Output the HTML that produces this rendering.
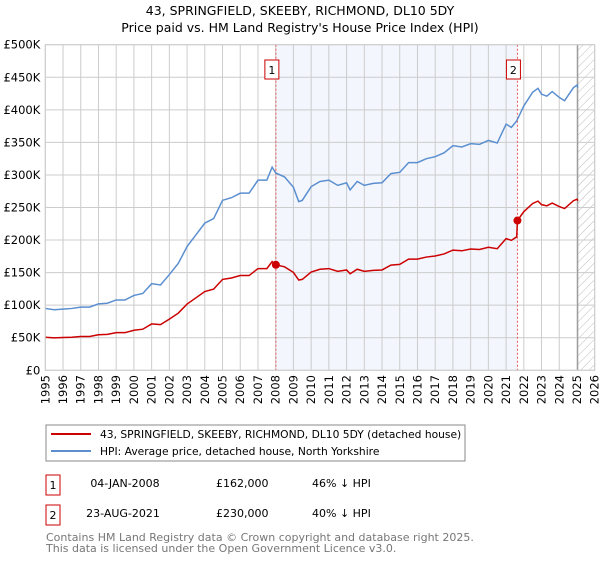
<!DOCTYPE html>
<html><head><meta charset="utf-8"><style>
body{margin:0;background:#fff;font-family:"Liberation Sans","DejaVu Sans",sans-serif;}
svg text{font-family:"DejaVu Sans","Liberation Sans",sans-serif;}
</style></head><body>
<svg id="chart" width="600" height="560" viewBox="0 0 600 560" xmlns="http://www.w3.org/2000/svg">
<defs><pattern id="hatch" patternUnits="userSpaceOnUse" width="6" height="6" patternTransform="rotate(45)"><line x1="0" y1="0" x2="0" y2="6" stroke="#bbb" stroke-width="1"/></pattern></defs>
<text x="300" y="15" text-anchor="middle" font-size="12.5">43, SPRINGFIELD, SKEEBY, RICHMOND, DL10 5DY</text>
<text x="300" y="32" text-anchor="middle" font-size="12.5">Price paid vs. HM Land Registry's House Price Index (HPI)</text>
<g id="plot"></g>
<rect x="46" y="425" width="419" height="36" fill="#fff" stroke="#888"/>
<line x1="51" y1="434" x2="91" y2="434" stroke="#cc0000" stroke-width="2"/>
<text x="100" y="438" font-size="10.7">43, SPRINGFIELD, SKEEBY, RICHMOND, DL10 5DY (detached house)</text>
<line x1="51" y1="451" x2="91" y2="451" stroke="#5b8fd0" stroke-width="2"/>
<text x="100" y="455" font-size="10.7">HPI: Average price, detached house, North Yorkshire</text>
<rect x="46" y="475" width="14" height="20" fill="#fff" stroke="#c00"/>
<text x="53" y="489" text-anchor="middle" font-size="11">1</text>
<text x="125" y="487" text-anchor="middle" font-size="11">04-JAN-2008</text>
<text x="216" y="487" font-size="11">£162,000</text>
<text x="312" y="487" font-size="11">46% ↓ HPI</text>
<rect x="46" y="505" width="14" height="20" fill="#fff" stroke="#c00"/>
<text x="53" y="519" text-anchor="middle" font-size="11">2</text>
<text x="123" y="517" text-anchor="middle" font-size="11">23-AUG-2021</text>
<text x="216" y="517" font-size="11">£230,000</text>
<text x="312" y="517" font-size="11">40% ↓ HPI</text>
<text x="46" y="541" font-size="11" fill="#777">Contains HM Land Registry data © Crown copyright and database right 2025.</text>
<text x="46" y="552" font-size="11" fill="#777">This data is licensed under the Open Government Licence v3.0.</text>
</svg>
<script>
const hpiYears=[1995,1995.5,1996,1996.5,1997,1997.5,1998,1998.5,1999,1999.5,2000,2000.5,2001,2001.5,2002,2002.5,2003,2003.5,2004,2004.5,2005,2005.5,2006,2006.5,2007,2007.5,2007.8,2008,2008.5,2009,2009.3,2009.5,2010,2010.5,2011,2011.5,2012,2012.2,2012.6,2013,2013.5,2014,2014.5,2015,2015.5,2016,2016.5,2017,2017.5,2018,2018.5,2019,2019.5,2020,2020.5,2021,2021.3,2021.6,2022,2022.5,2022.8,2023,2023.3,2023.6,2024,2024.3,2024.8,2025,2025.05];
const hpiValues=[95,93,94,95,97,97,102,103,108,108,115,118,133,131,147,164,190,208,226,233,261,265,272,272,292,292,312,303,297,281,259,261,282,290,292,284,288,277,290,284,287,288,302,304,319,319,325,328,334,345,343,348,347,353,349,378,373,383,406,427,433,424,421,428,419,414,434,438,434];
const redYears=[1995,1995.5,1996,1996.5,1997,1997.5,1998,1998.5,1999,1999.5,2000,2000.5,2001,2001.5,2002,2002.5,2003,2003.5,2004,2004.5,2005,2005.5,2006,2006.5,2007,2007.5,2007.8,2008,2008.5,2009,2009.3,2009.5,2010,2010.5,2011,2011.5,2012,2012.2,2012.6,2013,2013.5,2014,2014.5,2015,2015.5,2016,2016.5,2017,2017.5,2018,2018.5,2019,2019.5,2020,2020.5,2021,2021.3,2021.6,2021.64,2022,2022.5,2022.8,2023,2023.3,2023.6,2024,2024.3,2024.8,2025,2025.05];
const redValues=[50.8,49.8,50.3,50.8,51.9,51.9,54.6,55.1,57.8,57.8,61.5,63.1,71.2,70.1,78.6,87.7,101.7,111.3,120.9,124.7,139.6,141.8,145.5,145.5,156.2,156.2,166.9,162,158.9,150.3,138.6,139.6,150.9,155.2,156.2,151.9,154.1,148.2,155.2,151.9,153.5,154.1,161.6,162.6,170.7,170.7,173.9,175.5,178.7,184.6,183.5,186.2,185.6,188.9,186.7,202.2,199.6,205,230,243.6,256.2,259.8,254.4,252.6,256.8,251.4,248.4,260.4,262.8,260.4];
const saleYears=[2008.01,2021.64];
const saleValues=[162,230];
const saleLabels=["1","2"];
const yTicks=[0,50,100,150,200,250,300,350,400,450,500];
const yTickLabels=["£0","£50K","£100K","£150K","£200K","£250K","£300K","£350K","£400K","£450K","£500K"];
const xTicks=[1995,1996,1997,1998,1999,2000,2001,2002,2003,2004,2005,2006,2007,2008,2009,2010,2011,2012,2013,2014,2015,2016,2017,2018,2019,2020,2021,2022,2023,2024,2025,2026];
const X0=45.3,X1=594.7,Y0=370.3,Y1=44.7;
const xs=y=>X0+(y-1995)/31*(X1-X0);
const ys=v=>Y0-v/500*(Y0-Y1);
const NS="http://www.w3.org/2000/svg";
const g=document.getElementById('plot');
function mk(t,a,p){const e=document.createElementNS(NS,t);for(const k in a)e.setAttribute(k,a[k]);(p||g).appendChild(e);return e;}
let e;
e=mk('rect',{x:X0,y:Y1,width:X1-X0,height:Y0-Y1,fill:'#fff'});


e=mk('rect',{x:xs(saleYears[0]),y:Y1,width:xs(saleYears[1])-xs(saleYears[0]),height:Y0-Y1,fill:'#f3f6fd'});


e=mk('rect',{x:xs(2025.04),y:Y1,width:X1-xs(2025.04),height:Y0-Y1,fill:'url(#hatch)'});


xTicks.forEach(t=>{
 e=mk('line',{x1:xs(t),x2:xs(t),y1:Y1,y2:Y0,stroke:'#ccc','stroke-width':1});
 
 
 e=mk('text',{x:0,y:0,transform:`translate(${xs(t)+4},${Y0+34}) rotate(-90)`,'font-size':11.5});
 e.textContent=t;
 
 
});
yTicks.forEach((t,i)=>{
 e=mk('line',{x1:X0,x2:X1,y1:ys(t),y2:ys(t),stroke:'#ccc','stroke-width':1});
 
 
 e=mk('text',{x:X0-5,y:ys(t)+4,'text-anchor':'end','font-size':11.5});
 e.textContent=yTickLabels[i];
 
 
});
e=mk('line',{x1:xs(2025.04),x2:xs(2025.04),y1:Y1,y2:Y0,stroke:'#999','stroke-width':1.2});


saleYears.forEach((s,i)=>{
 e=mk('line',{x1:xs(s),x2:xs(s),y1:Y1,y2:Y0,stroke:'#e55','stroke-width':1,'stroke-dasharray':'2,2'});
 
 
});
e=mk('polyline',{points:hpiYears.map((y,i)=>xs(y)+','+ys(hpiValues[i])).join(' '),fill:'none',stroke:'#5b8fd0','stroke-width':1.5});


e=mk('polyline',{points:redYears.map((y,i)=>xs(y)+','+ys(redValues[i])).join(' '),fill:'none',stroke:'#cc0000','stroke-width':1.5});


saleYears.forEach((s,i)=>{
 e=mk('circle',{cx:xs(s),cy:ys(saleValues[i]),r:4,fill:'#cc0000'});
 
 
 e=mk('rect',{x:xs(s)-11,y:60,width:14,height:19,fill:'#fff',stroke:'#c00'});
 
 
 e=mk('text',{x:xs(s)-4,y:74,'text-anchor':'middle','font-size':11});
 e.textContent=saleLabels[i];
 
 
});
e=mk('rect',{x:X0,y:Y1,width:X1-X0,height:Y0-Y1,fill:'none',stroke:'#ccc'});


</script>
</body></html>
